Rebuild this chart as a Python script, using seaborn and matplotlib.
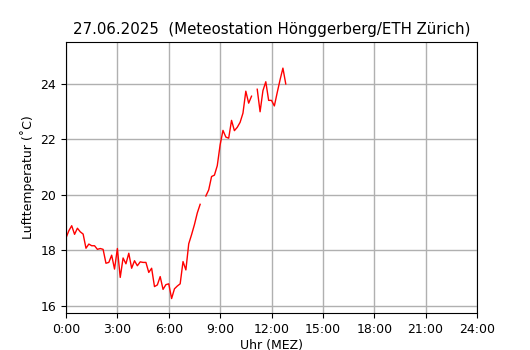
import numpy as np
import pandas as pd
import matplotlib
matplotlib.use("Agg")
import matplotlib.pyplot as plt
import seaborn as sns

# 10-minute temperature values from 0:00 to 12:50 (NaN = missing)
temps = [18.45, 18.71, 18.89, 18.58, 18.80, 18.67, 18.59, 18.08, 18.23, 18.17,
         18.17, 18.04, 18.07, 18.04, 17.54, 17.57, 17.83, 17.33, 18.07, 17.03,
         17.73, 17.52, 17.90, 17.36, 17.63, 17.45, 17.59, 17.57, 17.57, 17.21,
         17.36, 16.70, 16.76, 17.06, 16.60, 16.77, 16.80, 16.27, 16.62, 16.72,
         16.80, 17.60, 17.30, 18.24, 18.57, 18.93, 19.35, 19.66, np.nan, 19.96,
         20.18, 20.66, 20.71, 21.05, 21.80, 22.32, 22.08, 22.04, 22.68, 22.31,
         22.43, 22.61, 22.94, 23.73, 23.30, 23.55, np.nan, 23.80, 22.99, 23.75,
         24.07, 23.40, 23.40, 23.20, 23.68, 24.14, 24.56, 23.99]
hours = [i / 6 for i in range(len(temps))]

xticks = [0, 3, 6, 9, 12, 15, 18, 21, 24]
xticklabels = ["0:00", "3:00", "6:00", "9:00", "12:00", "15:00", "18:00", "21:00", "24:00"]
yticks = [16, 18, 20, 22, 24]

df = pd.DataFrame({"hour": hours, "temp": temps})
df["seg"] = df["temp"].isna().cumsum()
df = df.dropna()

fig = plt.figure(figsize=(5.3, 3.5), dpi=100)
ax = fig.add_axes([66/530, 1-313/350, (477-66)/530, (313-42)/350])
sns.lineplot(data=df, x="hour", y="temp", units="seg", estimator=None,
             color="red", linewidth=1, ax=ax, legend=False)

ax.set_xlim(0, 24)
ax.set_ylim(15.75, 25.5)
ax.set_xticks(xticks)
ax.set_xticklabels(xticklabels, fontsize=9)
ax.set_yticks(yticks)
ax.set_yticklabels([str(v) for v in yticks], fontsize=9)
ax.grid(True, color="#b0b0b0", linewidth=1)
ax.set_axisbelow(True)
ax.set_xlabel("Uhr (MEZ)", fontsize=9, labelpad=2)
ax.set_ylabel("Lufttemperatur (˚C)", fontsize=9)
ax.set_title("27.06.2025  (Meteostation Hönggerberg/ETH Zürich)", fontsize=10.85, pad=6)

fig.savefig("out.png", dpi=100)
